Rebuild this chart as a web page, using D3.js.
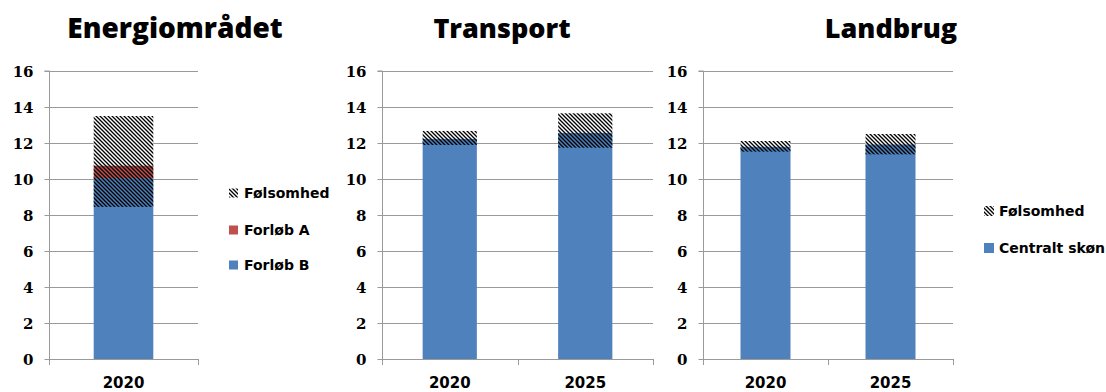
<!DOCTYPE html>
<html><head><meta charset="utf-8">
<script src="https://cdn.jsdelivr.net/npm/d3@7"></script>
<style>body{margin:0;background:#fff}svg{display:block}</style>
</head><body>
<svg id="c" width="1106" height="392"></svg>
<script>
// ---- data ----
const yTicks = [0, 2, 4, 6, 8, 10, 12, 14, 16];
// Energiområdet
const energyCats = ["2020"];
const energyForlobB = [10.05];
const energyForlobA = [0.7];
const energyFolsLow = [8.45];
const energyFolsHigh = [13.5];
// Transport
const transportCats = ["2020", "2025"];
const transportCentral = [12.24, 12.57];
const transportFolsLow = [11.89, 11.74];
const transportFolsHigh = [12.67, 13.65];
// Landbrug
const landbrugCats = ["2020", "2025"];
const landbrugCentral = [11.8, 11.93];
const landbrugFolsLow = [11.52, 11.37];
const landbrugFolsHigh = [12.11, 12.5];

const BLUE = "#4F81BD", RED = "#C0504D", GRID = "#9a9a9a";
const svg = d3.select("#c");
const defs = svg.append("defs");
const pat = defs.append("pattern").attr("id", "hatch").attr("patternUnits", "userSpaceOnUse")
  .attr("width", 4).attr("height", 4);
pat.append("path").attr("d", "M-1,-1 L5,5 M-1,3 L1,5 M3,-1 L5,1")
  .attr("stroke", "#000").attr("stroke-width", 1.35);

const y = d3.scaleLinear().domain([0, 16]).range([359, 71]);

function panel(x0, x1, cats, title, titleX, titleSize) {
  const g = svg.append("g");
  const x = d3.scaleBand().domain(cats).range([x0, x1]).paddingInner(0.6).paddingOuter(0.3);
  g.append("g").selectAll("line").data(yTicks.filter(d => d > 0)).join("line")
    .attr("x1", x0).attr("x2", x1).attr("y1", d => Math.round(y(d)) + 0.5).attr("y2", d => Math.round(y(d)) + 0.5)
    .attr("stroke", GRID).attr("stroke-width", 1);
  const ya = g.append("g").attr("transform", `translate(${Math.round(x0) + 0.5},0)`)
    .call(d3.axisLeft(y).tickValues(yTicks).tickSize(5).tickPadding(11));
  ya.select(".domain").attr("stroke", GRID).attr("d", `M-5,${y(16)}H0V${y(0)}`);
  ya.selectAll(".tick line").attr("stroke", GRID);
  ya.selectAll("text").attr("font-family", "DejaVu Serif").attr("font-weight", "bold")
    .attr("font-size", 15).attr("fill", "#000").attr("dy", "0.36em");
  const step = (x1 - x0) / cats.length;
  const xa = g.append("g").attr("transform", `translate(0,${Math.round(y(0)) + 0.5})`)
    .call(d3.axisBottom(x).tickSize(0).tickPadding(18));
  xa.select(".domain").attr("stroke", GRID).attr("d", `M${x0},0H${x1}`);
  xa.selectAll("text").attr("font-family", "DejaVu Sans").attr("font-weight", "bold")
    .attr("font-size", 15).attr("fill", "#000");
  const bounds = d3.range(cats.length + 1).map(i => x0 + i * step);
  g.append("g").selectAll("line").data(bounds).join("line")
    .attr("x1", d => Math.round(d) + 0.5).attr("x2", d => Math.round(d) + 0.5)
    .attr("y1", Math.round(y(0))).attr("y2", Math.round(y(0)) + 6).attr("stroke", GRID);
  svg.append("text").attr("x", titleX).attr("y", 38).attr("text-anchor", "middle")
    .attr("font-family", "Open Sans").attr("font-weight", 800).attr("font-size", titleSize)
    .attr("fill", "#000").text(title);
  return {g, x};
}

function hatch(g, x, cats, lo, hi) {
  g.append("g").selectAll("rect").data(cats).join("rect")
    .attr("x", d => x(d)).attr("width", x.bandwidth())
    .attr("y", (d, i) => y(hi[i])).attr("height", (d, i) => y(lo[i]) - y(hi[i]))
    .attr("fill", "url(#hatch)");
}

// Panel 1
{
  const {g, x} = panel(49, 198, energyCats, "Energiområdet", 175, 28);
  g.append("g").selectAll("rect").data(energyCats).join("rect")
    .attr("x", d => x(d)).attr("width", x.bandwidth())
    .attr("y", (d, i) => y(energyForlobB[i])).attr("height", (d, i) => y(0) - y(energyForlobB[i]))
    .attr("fill", BLUE);
  g.append("g").selectAll("rect").data(energyCats).join("rect")
    .attr("x", d => x(d)).attr("width", x.bandwidth())
    .attr("y", (d, i) => y(energyForlobB[i] + energyForlobA[i])).attr("height", (d, i) => y(energyForlobB[i]) - y(energyForlobB[i] + energyForlobA[i]))
    .attr("fill", RED);
  g.append("g").selectAll("rect").data(energyCats).join("rect")
    .attr("x", d => x(d)).attr("width", x.bandwidth())
    .attr("y", (d, i) => y(energyFolsHigh[i])).attr("height", (d, i) => y(energyForlobB[i] + energyForlobA[i]) - y(energyFolsHigh[i]))
    .attr("fill", "#fff");
  hatch(g, x, energyCats, energyFolsLow, energyFolsHigh);
}
// Panel 2
{
  const {g, x} = panel(382, 653, transportCats, "Transport", 502, 27);
  g.append("g").selectAll("rect").data(transportCats).join("rect")
    .attr("x", d => x(d)).attr("width", x.bandwidth())
    .attr("y", (d, i) => y(transportCentral[i])).attr("height", (d, i) => y(0) - y(transportCentral[i]))
    .attr("fill", BLUE);
  g.append("g").selectAll("rect").data(transportCats).join("rect")
    .attr("x", d => x(d)).attr("width", x.bandwidth())
    .attr("y", (d, i) => y(transportFolsHigh[i])).attr("height", (d, i) => y(transportCentral[i]) - y(transportFolsHigh[i]))
    .attr("fill", "#fff");
  hatch(g, x, transportCats, transportFolsLow, transportFolsHigh);
}
// Panel 3
{
  const {g, x} = panel(703, 953, landbrugCats, "Landbrug", 891, 27);
  g.append("g").selectAll("rect").data(landbrugCats).join("rect")
    .attr("x", d => x(d)).attr("width", x.bandwidth())
    .attr("y", (d, i) => y(landbrugCentral[i])).attr("height", (d, i) => y(0) - y(landbrugCentral[i]))
    .attr("fill", BLUE);
  g.append("g").selectAll("rect").data(landbrugCats).join("rect")
    .attr("x", d => x(d)).attr("width", x.bandwidth())
    .attr("y", (d, i) => y(landbrugFolsHigh[i])).attr("height", (d, i) => y(landbrugCentral[i]) - y(landbrugFolsHigh[i]))
    .attr("fill", "#fff");
  hatch(g, x, landbrugCats, landbrugFolsLow, landbrugFolsHigh);
}

function legend(items, sx, tx, ys, size) {
  const lg = svg.append("g");
  items.forEach((it, i) => {
    lg.append("rect").attr("x", sx).attr("y", ys[i] - size / 2).attr("width", size).attr("height", size)
      .attr("fill", it.fill);
    lg.append("text").attr("x", tx).attr("y", ys[i]).attr("dy", "0.36em")
      .attr("font-family", "DejaVu Sans").attr("font-weight", "bold").attr("font-size", 14)
      .attr("fill", "#000").text(it.label);
  });
}
legend([{label: "Følsomhed", fill: "url(#hatch)"}, {label: "Forløb A", fill: RED}, {label: "Forløb B", fill: BLUE}],
  229, 244, [193, 230, 265], 9);
legend([{label: "Følsomhed", fill: "url(#hatch)"}, {label: "Centralt skøn", fill: BLUE}],
  984, 999, [211, 248], 10);
</script>
</body></html>
